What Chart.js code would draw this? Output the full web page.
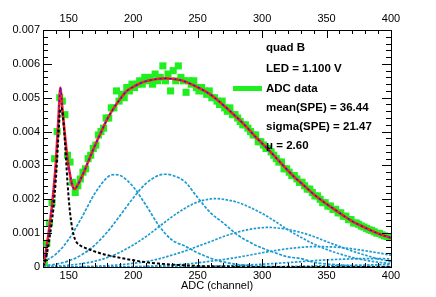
<!DOCTYPE html>
<html>
<head>
  <meta charset="UTF-8">
  <title>quad B spectrum</title>
  <style>
    body { margin: 0; background: #fff; }
    #chart { display: block; }
  </style>
</head>
<body>
  <canvas id="chart" width="436" height="297"></canvas>

  <script src="https://cdn.jsdelivr.net/npm/chart.js"></script>
  <script>
    // axis ticks
    const xTicks = [150, 200, 250, 300, 350, 400];
    const yTicks = [0, 0.001, 0.002, 0.003, 0.004, 0.005, 0.006, 0.007];

    // ADC data (green squares), one point per 2 channels
    const dataX = [131,133,135,137,139,141,143,145,147,149,151,153,155,157,159,161,163,165,167,169,
                   171,173,175,177,179,181,183,185,187,189,191,193,195,197,199,201,203,205,207,209,
                   211,213,215,217,219,221,223,225,227,229,231,233,235,237,239,241,243,245,247,249,
                   251,253,255,257,259,261,263,265,267,269,271,273,275,277,279,281,283,285,287,289,
                   291,293,295,297,299,301,303,305,307,309,311,313,315,317,319,321,323,325,327,329,
                   331,333,335,337,339,341,343,345,347,349,351,353,355,357,359,361,363,365,367,369,
                   371,373,375,377,379,381,383,385,387,389,391,393,395,397,399];
    const dataY = [0.00012,0.0007,0.0013,0.0019,0.0032,0.0040,0.0050,0.0049,0.0045,0.0033,
                   0.0031,0.0025,0.0022,0.0024,0.0026,0.0028,0.0029,0.0032,0.0033,0.0035,
                   0.0036,0.0039,0.0040,0.0041,0.0044,0.0044,0.0047,0.0047,0.0052,0.0049,
                   0.0051,0.0050,0.0053,0.0052,0.0054,0.0053,0.0054,0.0055,0.0054,0.0056,
                   0.0055,0.0056,0.0054,0.0057,0.0055,0.0056,0.00594,0.0055,0.0057,0.0052,
                   0.0058,0.0055,0.00594,0.0056,0.0055,0.00516,0.0055,0.0054,0.0055,0.0053,
                   0.0052,0.0053,0.0052,0.0051,0.0052,0.0050,0.0050,0.0049,0.0048,0.0049,
                   0.0047,0.0046,0.0047,0.0045,0.0045,0.0044,0.0043,0.0042,0.0042,0.0041,
                   0.0040,0.0039,0.0039,0.0037,0.0037,0.0036,0.0035,0.0035,0.0034,0.0033,
                   0.0032,0.0031,0.0031,0.0029,0.0029,0.0028,0.0027,0.0027,0.0026,0.0025,
                   0.0025,0.0024,0.0023,0.0023,0.0022,0.0021,0.0021,0.0020,0.0019,0.0019,
                   0.0018,0.0018,0.0017,0.0017,0.0016,0.0016,0.0015,0.0015,0.0014,0.0014,
                   0.0013,0.0013,0.00126,0.00121,0.00118,0.00114,0.0011,0.00108,0.00104,0.001,
                   0.00099,0.00095,0.00092,0.0009,0.00087];

    // total fit
    const fitX = [130,131,132,134,136,138,140,142,143.5,145,147,149,151,153,154.5,156,158,160,163,166,
                  170,175,180,185,190,195,200,205,210,215,220,225,230,235,240,245,250,255,260,265,
                  270,275,280,285,290,295,300,305,310,315,320,325,330,335,340,345,350,355,360,365,
                  370,375,380,385,390,395,400];
    const fitY = [0.00003,0.0001,0.0004,0.0009,0.0015,0.0022,0.0031,0.0044,0.0053,0.0047,
                  0.0039,0.0032,0.00272,0.00238,0.0023,0.00236,0.0025,0.00266,0.00292,0.0032,
                  0.00356,0.00398,0.00438,0.0047,0.00497,0.0052,0.00532,0.00542,0.00549,0.00553,
                  0.00556,0.00557,0.00556,0.00553,0.00548,0.0054,0.00531,0.00521,0.00509,0.00494,
                  0.00478,0.00461,0.00443,0.00425,0.00405,0.00384,0.00365,0.00346,0.00326,0.00305,
                  0.00285,0.00266,0.00249,0.00232,0.00215,0.002,0.00186,0.00173,0.0016,0.00147,
                  0.00135,0.00125,0.00116,0.00107,0.00099,0.00092,0.00086];

    // pedestal + noise tail (black dashed)
    const pedX = [130,132,134,136,138,140,141,142,143,144,145,146,147,148,149,150,151,152,153,154,
                  155,156,158,160,165,170,175,180,190,200,210,220,230,240,250,260,280,300,330,360,400];
    const pedY = [0.00002,0.0002,0.0006,0.0011,0.0017,0.0026,0.0032,0.0039,0.0045,0.0047,
                  0.0046,0.0042,0.0037,0.0031,0.0025,0.0020,0.0016,0.0013,0.00108,0.00092,
                  0.0008,0.00073,0.00066,0.00061,0.00053,0.00046,0.0004,0.00035,0.00027,0.0002,
                  0.00014,0.0001,0.00007,0.00005,0.00003,0.00002,0.00001,0,0,0,0];

    // n-photoelectron components (blue dotted)
    const g1X = [130,140,150,160,170,180,185,190,200,210,220,230,240,250,260,270,280,290,300,320,400];
    const g1Y = [0.00015,0.00038,0.00082,0.00146,0.00216,0.00265,0.00273,0.0027,0.00237,0.00182,
                 0.00122,0.0008,0.00062,0.00042,0.00026,0.00015,0.00008,0.00004,0.00002,0,0];
    const g2X = [130,140,150,160,170,180,190,200,210,220,225,230,240,250,260,270,280,290,300,310,
                 320,330,340,350,360,380,400];
    const g2Y = [0.000035,0.000084,0.00018,0.00036,0.00064,0.00104,0.00153,0.00204,0.00247,0.00271,
                 0.00274,0.00271,0.00252,0.00205,0.0016,0.0013,0.00097,0.00074,0.00056,0.00042,
                 0.0003,0.00025,0.00014,0.00009,0.00006,0.00002,0.00001];
    const g3X = [130,140,150,160,170,180,190,200,210,220,230,240,250,260,265,270,280,290,300,310,
                 320,330,340,350,360,370,380,390,400];
    const g3Y = [0.000013,0.000027,0.000053,0.0001,0.00017,0.00028,0.00044,0.00065,0.0009,0.00119,
                 0.00148,0.00173,0.00192,0.00201,0.00202,0.002,0.00192,0.00177,0.00158,0.00135,
                 0.0011,0.00088,0.00068,0.00052,0.00039,0.00028,0.0002,0.00014,0.0001];
    const g4X = [130,150,170,190,200,210,220,230,240,250,260,270,280,290,300,305,310,320,330,340,
                 350,360,370,380,390,400];
    const g4Y = [0,0.000006,0.000023,0.000066,0.00011,0.00016,0.00024,0.00035,0.00047,0.00061,
                 0.00075,0.0009,0.00102,0.00111,0.00116,0.00117,0.00116,0.00111,0.00102,0.0009,
                 0.00075,0.00061,0.00047,0.00035,0.00024,0.00016];
    const g5X = [130,170,200,220,240,260,280,300,320,340,345,360,380,400];
    const g5Y = [0,0.000003,0.000014,0.000037,0.000084,0.00017,0.00028,0.00042,0.00054,0.0006,
                 0.0006,0.00058,0.00048,0.00035];
    const g6X = [130,200,230,260,290,320,350,370,385,400];
    const g6Y = [0,0,0.000006,0.000023,0.000062,0.00013,0.00021,0.00024,0.00025,0.00024];
    const g7X = [130,250,280,320,360,400];
    const g7Y = [0,0,0.000004,0.000017,0.000044,0.000073];

    const pts = (xs, ys) => xs.map((x, i) => ({x: x, y: ys[i]}));

    const FONT = "'Liberation Sans', Arial, Helvetica, sans-serif";
    const compColor = '#1b9bd2';

    const curve = (xs, ys, color, width, dash, order) => ({
      data: pts(xs, ys),
      showLine: true,
      pointRadius: 0,
      borderColor: color,
      borderWidth: width,
      borderDash: dash,
      cubicInterpolationMode: 'monotone',
      order: order
    });

    // ROOT style ticks, pointing into the frame on all four sides
    const frameTicks = {
      id: 'frameTicks',
      afterDatasetsDraw(chart) {
        const {ctx, chartArea: a, scales: {x, y}} = chart;
        ctx.save();
        ctx.strokeStyle = '#000';
        ctx.lineWidth = 1;
        ctx.beginPath();
        for (let v = 130; v <= 400; v += 10) {
          const px = Math.round(x.getPixelForValue(v)) + 0.5;
          const len = v % 50 === 0 ? 8 : 4;
          ctx.moveTo(px, a.bottom); ctx.lineTo(px, a.bottom - len);
          ctx.moveTo(px, a.top);    ctx.lineTo(px, a.top + len);
        }
        for (let i = 0; i <= 35; i++) {
          const py = Math.round(y.getPixelForValue(i * 0.0002)) + 0.5;
          const len = i % 5 === 0 ? 9 : 5;
          ctx.moveTo(a.left, py);  ctx.lineTo(a.left + len, py);
          ctx.moveTo(a.right, py); ctx.lineTo(a.right - len, py);
        }
        ctx.stroke();
        ctx.restore();
      }
    };

    // TLegend-like text block
    const legendBox = {
      id: 'legendBox',
      afterDraw(chart) {
        const ctx = chart.ctx;
        ctx.save();
        ctx.fillStyle = '#000';
        ctx.font = 'bold 11.5px ' + FONT;
        ctx.textBaseline = 'middle';
        ctx.textAlign = 'left';
        const tx = 266;
        ctx.fillText('quad B', tx, 47.5);
        ctx.fillText('LED = 1.100 V', tx, 69);
        ctx.fillText('ADC data', tx, 88.5);
        ctx.fillText('mean(SPE) = 36.44', tx, 107.5);
        ctx.fillText('sigma(SPE) = 21.47', tx, 127);
        ctx.fillText('\u03bc = 2.60', tx, 146);
        ctx.strokeStyle = '#1ef01e';
        ctx.lineWidth = 5;
        ctx.beginPath();
        ctx.moveTo(233, 88.5);
        ctx.lineTo(262, 88.5);
        ctx.stroke();
        ctx.restore();
      }
    };

    const setXTicks = s => { s.ticks = xTicks.map(v => ({value: v})); };
    const tickFont = { family: FONT, size: 11 };

    new Chart(document.getElementById('chart'), {
      type: 'scatter',
      data: {
        datasets: [
          {
            data: pts(dataX, dataY),
            pointStyle: 'rect',
            pointRadius: 5,
            backgroundColor: '#1ef01e',
            borderWidth: 0,
            order: 6
          },
          curve(fitX, fitY, '#ff1e1e', 2.6, [], 5),
          curve(fitX, fitY, '#1414ff', 1.3, [2, 3], 4),
          curve(g1X, g1Y, compColor, 1.7, [3, 1.5], 3),
          curve(g2X, g2Y, compColor, 1.7, [3, 1.5], 3),
          curve(g3X, g3Y, compColor, 1.7, [2.5, 1.5], 3),
          curve(g4X, g4Y, compColor, 1.7, [2.5, 1.5], 3),
          curve(g5X, g5Y, compColor, 1.7, [2.5, 1.5], 3),
          curve(g6X, g6Y, compColor, 1.7, [2.5, 1.5], 3),
          curve(g7X, g7Y, compColor, 1.7, [2.5, 1.5], 3),
          curve(pedX, pedY, '#000', 2, [3, 2], 2)
        ]
      },
      options: {
        responsive: false,
        animation: false,
        devicePixelRatio: 1,
        layout: { padding: 0 },
        plugins: { legend: { display: false }, tooltip: { enabled: false } },
        scales: {
          x: {
            type: 'linear', position: 'bottom', min: 130, max: 400,
            afterBuildTicks: setXTicks,
            afterFit: s => { s.height = 30; },
            grid: { display: false, drawTicks: false },
            border: { display: true, color: '#000', width: 1 },
            ticks: { color: '#000', font: tickFont, padding: 2, maxRotation: 0 },
            title: { display: true, text: 'ADC (channel)', color: '#000',
                     font: tickFont, padding: { top: 0, bottom: 4 } }
          },
          x2: {
            type: 'linear', position: 'top', min: 130, max: 400,
            afterBuildTicks: setXTicks,
            afterFit: s => { s.height = 30; },
            grid: { display: false, drawTicks: false },
            border: { display: true, color: '#000', width: 1 },
            ticks: { color: '#000', font: tickFont, padding: 4, maxRotation: 0 }
          },
          y: {
            type: 'linear', position: 'left', min: 0, max: 0.007,
            afterBuildTicks: s => { s.ticks = yTicks.map(v => ({value: v})); },
            afterFit: s => { s.width = 43; },
            grid: { display: false, drawTicks: false },
            border: { display: true, color: '#000', width: 1 },
            ticks: { color: '#000', font: tickFont, padding: 3,
                     callback: v => v === 0 ? '0' : v.toFixed(3) }
          },
          y2: {
            type: 'linear', position: 'right', min: 0, max: 0.007,
            afterFit: s => { s.width = 45; },
            grid: { display: false, drawTicks: false },
            border: { display: true, color: '#000', width: 1 },
            ticks: { display: false }
          }
        }
      },
      plugins: [frameTicks, legendBox]
    });
  </script>
</body>
</html>
